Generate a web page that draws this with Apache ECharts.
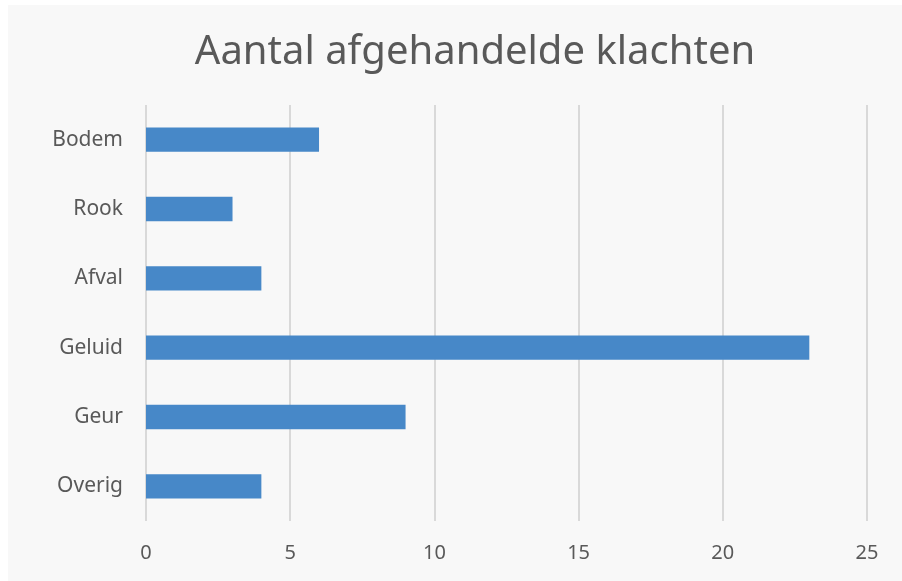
<!DOCTYPE html>
<html>
<head>
<meta charset="utf-8">
<script src="https://cdn.jsdelivr.net/npm/echarts@6/dist/echarts.min.js"></script>
<style>
  html, body { margin: 0; padding: 0; background: #ffffff; }
  #chart { width: 902px; height: 581px; }
</style>
</head>
<body>
<div id="chart"></div>
<script>
// categories top to bottom as in the picture
const categories = ["Bodem", "Rook", "Afval", "Geluid", "Geur", "Overig"];
const klachten = [6, 3, 4, 23, 9, 4];
const titleText = "Aantal afgehandelde klachten";

const chart = echarts.init(document.getElementById("chart"));
chart.setOption({
  backgroundColor: "#ffffff",
  textStyle: { fontFamily: "Noto Sans" },
  graphic: [
    {
      type: "rect",
      z: -10,
      shape: { x: 8, y: 5, width: 894, height: 576 },
      style: { fill: "#f8f8f8" }
    }
  ],
  title: {
    text: titleText,
    left: 470,
    top: 28,
    textAlign: "center",
    textStyle: { fontSize: 40, fontWeight: "normal", color: "#595959", fontFamily: "Noto Sans" }
  },
  grid: { left: 146, right: 35, top: 105, bottom: 60, containLabel: false },
  xAxis: {
    type: "value",
    min: 0,
    max: 25,
    interval: 5,
    axisLine: { show: false },
    axisTick: { show: false },
    axisLabel: { color: "#595959", fontSize: 20, margin: 22 },
    splitLine: { lineStyle: { color: "#d9d9d9", width: 2 } }
  },
  yAxis: {
    type: "category",
    data: categories,
    inverse: true,
    axisLine: { show: false },
    axisTick: { show: false },
    axisLabel: { color: "#595959", fontSize: 21, margin: 23, padding: [4, 0, 0, 0] }
  },
  series: [
    {
      type: "bar",
      data: klachten,
      barWidth: "35%",
      itemStyle: { color: "#4788c8" }
    }
  ]
});
</script>
</body>
</html>
